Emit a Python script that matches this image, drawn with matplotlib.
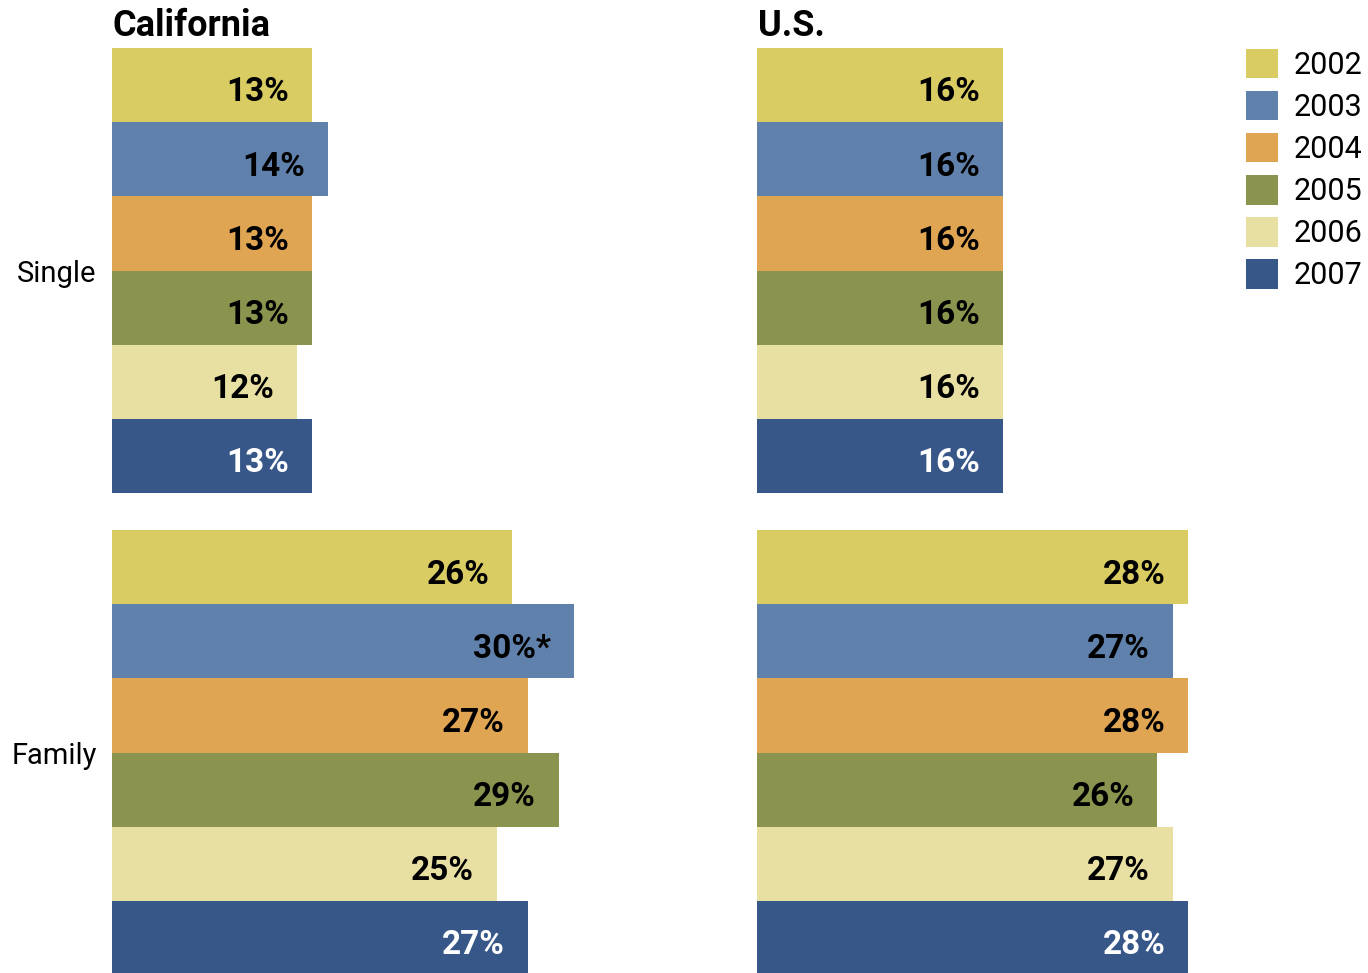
import matplotlib.pyplot as plt
from matplotlib.patches import Patch

plt.rcParams['font.family'] = ['Roboto', 'DejaVu Sans']

years = ['2002', '2003', '2004', '2005', '2006', '2007']
colors = ['#D9CC62', '#5F81AB', '#E0A553', '#8A944E', '#E8E0A3', '#385789']
groups = ['Single', 'Family']

ca_single = [13, 14, 13, 13, 12, 13]
ca_family = [26, 30, 27, 29, 25, 27]
us_single = [16, 16, 16, 16, 16, 16]
us_family = [28, 27, 28, 26, 27, 28]
ca_notes = ['', '', '', '', '', '', '', '*', '', '', '', '']

W, H = 1368, 973
fig = plt.figure(figsize=(W / 100, H / 100), dpi=100)

px_per = 15.4
row_px = 74.17
top = 48


def panel(left, xmax, single, family, title, notes=None, ylabels=True):
    ax = fig.add_axes([left / W, 0, xmax * px_per / W, (H - top) / H])
    ymax = (H - top) / row_px
    vals = single + family
    ypos = [i + 0.5 for i in range(6)] + [6.5 + i + 0.5 for i in range(6)]
    cols = colors + colors
    ax.barh(ypos, vals, height=1.0, color=cols, linewidth=0)
    for i, (y, v) in enumerate(zip(ypos, vals)):
        txt = '%d%%' % v
        if notes:
            txt += notes[i]
        tc = 'white' if i % 6 == 5 else 'black'
        ax.annotate(txt, xy=(v, y), xytext=(-16.5, -11.8), textcoords='offset points',
                    ha='right', va='baseline', fontsize=24, fontweight='bold', color=tc)
    ax.set_xlim(0, xmax)
    ax.set_ylim(ymax, 0)
    ax.set_xticks([])
    if ylabels:
        ax.set_yticks([3, 9.5])
        ax.set_yticklabels(groups, fontsize=21)
        ax.tick_params(axis='y', length=0, pad=11)
    else:
        ax.set_yticks([])
    for s in ax.spines.values():
        s.set_visible(False)
    ax.annotate(title, xy=(0, 1), xycoords='axes fraction', xytext=(0.5, 8.5),
                textcoords='offset points', ha='left', va='baseline',
                fontsize=26, fontweight='bold')
    return ax


panel(112, 40, ca_single, ca_family, 'California', notes=ca_notes)
panel(757, 30, us_single, us_family, 'U.S.', ylabels=False)

handles = [Patch(facecolor=c, edgecolor='none') for c in colors]
fig.legend(handles, years, loc='upper left', bbox_to_anchor=(1246 / W, 1 - 49 / H),
           frameon=False, fontsize=22, handlelength=1.05, handleheight=1.1,
           handletextpad=0.5, labelspacing=0.36, borderpad=0, borderaxespad=0)

plt.savefig('out.png', dpi=100)
